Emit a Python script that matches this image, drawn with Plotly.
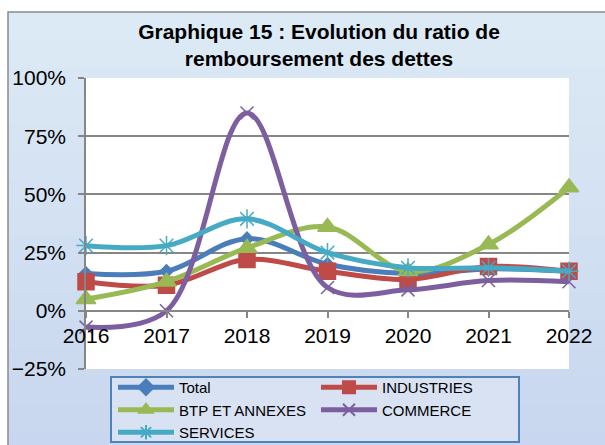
import plotly.graph_objects as go

# values (ratio, 1.0 = 100%)
years = [2016, 2017, 2018, 2019, 2020, 2021, 2022]
total = [0.16, 0.17, 0.31, 0.20, 0.16, 0.18, 0.17]
industries = [0.125, 0.11, 0.22, 0.17, 0.135, 0.19, 0.17]
btp = [0.05, 0.125, 0.27, 0.36, 0.17, 0.285, 0.53]
commerce = [-0.07, 0.0, 0.85, 0.10, 0.09, 0.13, 0.125]
services = [0.28, 0.28, 0.395, 0.25, 0.185, 0.185, 0.17]

W, H = 605, 445
L, R, T, B = 86, 36, 78, 76
pw, ph = W - L - R, H - T - B

series = [
    ("Total", total, "#4a7ebb", "diamond", 10),
    ("INDUSTRIES", industries, "#be4b48", "square", 16),
    ("BTP ET ANNEXES", btp, "#98b954", "triangle-up", 17),
    ("COMMERCE", commerce, "#7d5fa0", "x-thin-open", 13),
    ("SERVICES", services, "#46aac5", "asterisk-open", 16),
]

fig = go.Figure()
for name, vals, color, sym, size in series:
    fig.add_scatter(
        x=years, y=vals, name=name, mode="lines+markers",
        line=dict(color=color, width=5, shape="spline", smoothing=1),
        marker=dict(symbol=sym, size=size, color=color, line=dict(color=color, width=1.5)),
        cliponaxis=False,
    )


def px_x(p):
    return (p - L) / pw


def px_y(p):
    return (H - B - p) / ph


# chart frame with a soft vertical gradient
shapes = []
top_c, bot_c = (220, 234, 245), (200, 214, 239)
n = 16
y_top, y_bot = 12, 460
for i in range(n):
    f = i / (n - 1)
    c = tuple(round(a + (b - a) * f) for a, b in zip(top_c, bot_c))
    y0 = y_top + (y_bot - y_top) * i / n
    y1 = y_top + (y_bot - y_top) * (i + 1) / n
    shapes.append(dict(type="rect", xref="paper", yref="paper", layer="below",
                       x0=px_x(8), x1=px_x(620), y0=px_y(y1), y1=px_y(y0),
                       fillcolor="rgb(%d,%d,%d)" % c, line=dict(width=0)))
shapes.append(dict(type="rect", xref="paper", yref="paper", layer="below",
                   x0=px_x(8), x1=px_x(620), y0=px_y(460), y1=px_y(12),
                   fillcolor="rgba(0,0,0,0)", line=dict(color="#8c8c8c", width=1.5)))
shapes.append(dict(type="rect", xref="paper", yref="paper", layer="below",
                   x0=0, x1=1, y0=0, y1=1, fillcolor="white", line=dict(width=0)))
# legend box drawn separately so the entries can sit higher inside it
shapes.append(dict(type="rect", xref="paper", yref="paper", layer="below",
                   x0=px_x(111), x1=px_x(519), y0=px_y(442), y1=px_y(377),
                   fillcolor="#d9e2f3", line=dict(color="#4f81bd", width=2)))

fig.update_layout(
    width=W, height=H,
    margin=dict(l=L, r=R, t=T, b=B, autoexpand=False),
    paper_bgcolor="white", plot_bgcolor="white",
    font=dict(family="Liberation Sans, Arial, sans-serif", color="black"),
    shapes=shapes,
    title=dict(text="<b>Graphique 15 : Evolution du ratio de<br>remboursement des dettes</b>",
               x=319 / W, xanchor="center", xref="container",
               y=1 - 39 / H, yanchor="top", yref="container",
               font=dict(size=21)),
    legend=dict(orientation="h", x=px_x(113), y=px_y(371), xanchor="left", yanchor="top",
                bgcolor="rgba(0,0,0,0)", borderwidth=0, itemsizing="constant",
                font=dict(size=15), itemwidth=56, entrywidth=132, tracegroupgap=0),
    showlegend=True,
)
fig.update_xaxes(
    range=[2016, 2022], tickvals=years, ticktext=[str(y) for y in years],
    anchor="free", position=0.2, showgrid=False, zeroline=False,
    showline=True, linecolor="#868686", linewidth=1.5,
    ticks="outside", ticklen=6, tickcolor="#868686", tickwidth=1.5,
    tickfont=dict(size=21), automargin=False,
)
fig.update_yaxes(
    range=[-0.25, 1.0], tick0=-0.25, dtick=0.25, tickformat=".0%",
    showgrid=True, gridcolor="#868686", gridwidth=1.5, zeroline=False,
    showline=True, linecolor="#868686", linewidth=1.5,
    ticks="outside", ticklen=6, tickcolor="#868686", tickwidth=1.5,
    tickfont=dict(size=21), ticklabelstandoff=8, automargin=False,
)

# page body has a default 8px margin; drop it so the figure sits at the origin
fig.write_html("out.html", config={"displayModeBar": False},
               post_script="document.body.style.margin = '0';")
